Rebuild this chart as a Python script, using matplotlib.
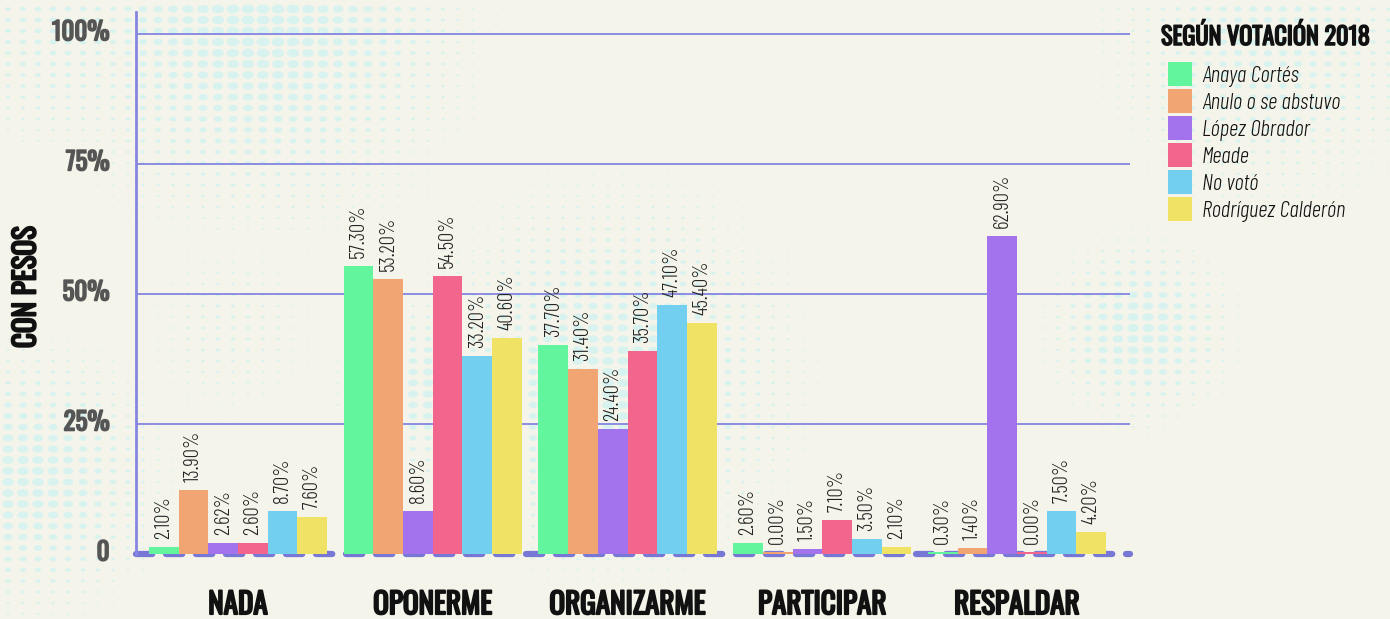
import numpy as np
import matplotlib
matplotlib.use('Agg')
import matplotlib.pyplot as plt
import matplotlib.patheffects as pe
import matplotlib.transforms as mtransforms
from matplotlib import font_manager
from matplotlib.patches import Rectangle

# data
categories = ['NADA', 'OPONERME', 'ORGANIZARME', 'PARTICIPAR', 'RESPALDAR']
series = ['Anaya Cortés', 'Anulo o se abstuvo', 'López Obrador', 'Meade', 'No votó', 'Rodríguez Calderón']
colors = ['#62f59e', '#f1a572', '#a373ee', '#f2658c', '#72cff0', '#f0e264']

# bar heights as drawn (percent)
anaya = [1.4, 55.4, 40.2, 2.1, 0.3]
anulo = [12.3, 52.9, 35.6, 0.4, 1.2]
lopez = [2.1, 8.3, 24.0, 1.0, 61.2]
meade = [2.1, 53.5, 39.0, 6.5, 0.3]
novoto = [8.3, 38.1, 47.9, 2.9, 8.3]
rodriguez = [7.1, 41.5, 44.4, 1.3, 4.2]

# labels printed above the bars
anaya_lbl = ['2.10%', '57.30%', '37.70%', '2.60%', '0.30%']
anulo_lbl = ['13.90%', '53.20%', '31.40%', '0.00%', '1.40%']
lopez_lbl = ['2.62%', '8.60%', '24.40%', '1.50%', '62.90%']
meade_lbl = ['2.60%', '54.50%', '35.70%', '7.10%', '0.00%']
novoto_lbl = ['8.70%', '33.20%', '47.10%', '3.50%', '7.50%']
rodriguez_lbl = ['7.60%', '40.60%', '45.40%', '2.10%', '4.20%']

values = [anaya, anulo, lopez, meade, novoto, rodriguez]
labels = [anaya_lbl, anulo_lbl, lopez_lbl, meade_lbl, novoto_lbl, rodriguez_lbl]

names = {f.name for f in font_manager.fontManager.ttflist}
head = 'Oswald' if 'Oswald' in names else 'Barlow Condensed'
thin = 'Barlow Condensed' if 'Barlow Condensed' in names else 'DejaVu Sans'
plt.rcParams['font.family'] = [head, 'DejaVu Sans']


def heavy(c, lw=1.2):
    # Oswald only ships one weight here, so thicken the glyphs
    return [pe.withStroke(linewidth=lw, foreground=c)]


bg = '#f4f4ea'
grid_c = '#8585e2'

fig = plt.figure(figsize=(13.9, 6.19), dpi=100, facecolor=bg)

# halftone dots in the background
bgax = fig.add_axes([0, 0, 1, 1], zorder=-5)
bgax.set_xlim(0, 1390)
bgax.set_ylim(619, 0)
bgax.axis('off')
gx, gy = np.meshgrid(np.arange(8, 1390, 15), np.arange(9, 619, 11))
gx = gx.astype(float)
blobs = [(260, 15, 120, 1.0), (610, 380, 110, 0.9), (25, 480, 80, 0.9),
         (430, 390, 55, 0.8), (1140, 330, 55, 0.9), (1270, 40, 100, 0.65),
         (60, 30, 80, 0.55), (230, 330, 60, 0.35)]
inten = np.zeros_like(gx)
for cx, cy, s, a in blobs:
    inten = np.maximum(inten, a * np.exp(-((gx - cx) ** 2 + (gy - cy) ** 2) / (2 * s ** 2)))
mask = inten > 0.12
t = np.linspace(0, 2 * np.pi, 30)
ell = np.column_stack([np.cos(t), 0.68 * np.sin(t)])
bgax.scatter(gx[mask], gy[mask], s=(9.5 * inten[mask]) ** 2, marker=ell,
             color='#d8f3ef', linewidths=0)

ax = fig.add_axes([136 / 1390, 65 / 619, 994 / 1390, 542 / 619])
ax.patch.set_alpha(0)

x = np.arange(len(categories))
w = 0.1525
for i, (vals, lbls) in enumerate(zip(values, labels)):
    pos = x + (i - 2.5) * w
    ax.bar(pos, vals, width=w, color=colors[i], zorder=3, label=series[i])
    for px, v, l in zip(pos, vals, lbls):
        ax.annotate(l, (px, v), xytext=(0, 8), textcoords='offset pixels',
                    rotation=90, ha='center', va='bottom', fontsize=15,
                    family=thin, fontweight=300, color='#222222', zorder=4)

ax.set_xlim(-0.524, 4.58)
ax.set_ylim(0, 104.2)

for g in [25, 50, 75, 100]:
    ax.axhline(g, color=grid_c, lw=1.3, zorder=1)
ax.axhline(0, color='#7777d6', lw=4.5, ls=(0, (2.6, 2.2)), dash_capstyle='round',
           zorder=2, clip_on=False)

for s in ['top', 'right', 'bottom']:
    ax.spines[s].set_visible(False)
ax.spines['left'].set_color(grid_c)
ax.spines['left'].set_linewidth(2)

ax.set_yticks([0, 25, 50, 75, 100])
ax.set_yticklabels(['0', '25%', '50%', '75%', '100%'])
ax.tick_params(axis='y', length=0, pad=19, labelsize=18, labelcolor='#555555')
lift = mtransforms.ScaledTranslation(0, 4 / 100, fig.dpi_scale_trans)
for t_ in ax.get_yticklabels():
    t_.set_verticalalignment('center_baseline')
    t_.set_transform(t_.get_transform() + lift)
    t_.set_path_effects(heavy('#555555'))

ax.set_xticks(x)
ax.set_xticklabels(categories)
ax.tick_params(axis='x', length=0, pad=26, labelsize=21, labelcolor='#111111')
for t_ in ax.get_xticklabels():
    t_.set_path_effects(heavy('#111111', 1.4))

fig.text(26 / 1390, 1 - 287 / 619, 'CON PESOS', rotation=90, ha='center', va='center',
         fontsize=21, color='#111111', path_effects=heavy('#111111', 1.4))

# legend, drawn in pixel coordinates
lg = fig.add_axes([0, 0, 1, 1], zorder=5)
lg.set_xlim(0, 1390)
lg.set_ylim(619, 0)
lg.axis('off')
lg.text(1161, 45, 'SEGÚN VOTACIÓN 2018', ha='left', va='baseline', fontsize=17.5,
        color='#111111', path_effects=heavy('#111111', 1.1))
for k, (c, n) in enumerate(zip(colors, series)):
    y0 = 62 + 27 * k
    lg.add_patch(Rectangle((1168, y0), 24, 24, color=c, lw=0))
    lg.text(1202, y0 + 12, n, ha='left', va='center_baseline', fontsize=16.5,
            family=thin, style='italic', fontweight=300, color='#111111')

fig.savefig('out.png', dpi=100, facecolor=bg)
